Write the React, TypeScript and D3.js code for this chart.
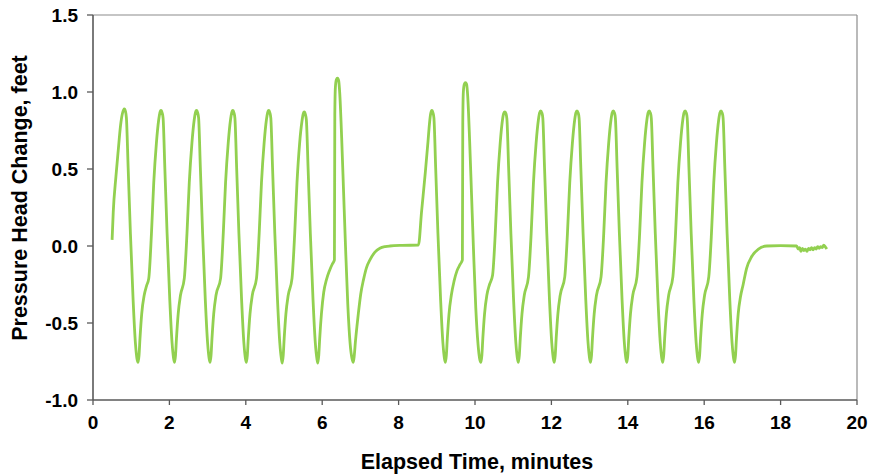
import React from "react";
import * as d3 from "d3";

const xTicks = [0, 2, 4, 6, 8, 10, 12, 14, 16, 18, 20];
const yTicks = [-1.0, -0.5, 0.0, 0.5, 1.0, 1.5];

// Elapsed time (minutes) and pressure head change (feet)
const timeMin = [
  0.50, 0.53, 0.60, 0.66, 0.72, 0.77, 0.82, 0.85, 0.875, 0.92, 0.98, 1.05, 1.11, 1.15, 1.18, 1.205, 1.23, 1.275, 1.34, 1.40,
  1.46, 1.53, 1.59, 1.66, 1.72, 1.75, 1.78, 1.81, 1.835, 1.88, 1.94, 2.01, 2.07, 2.11, 2.135, 2.16, 2.185, 2.23, 2.29,
  2.39, 2.46, 2.52, 2.59, 2.65, 2.68, 2.71, 2.74, 2.765, 2.81, 2.87, 2.94, 3.00, 3.04, 3.065, 3.09, 3.115, 3.16, 3.22,
  3.34, 3.41, 3.47, 3.54, 3.60, 3.63, 3.66, 3.69, 3.715, 3.76, 3.82, 3.89, 3.95, 3.99, 4.015, 4.04, 4.065, 4.11, 4.17,
  4.28, 4.35, 4.41, 4.48, 4.54, 4.57, 4.60, 4.63, 4.655, 4.70, 4.76, 4.83, 4.89, 4.93, 4.955, 4.98, 5.005, 5.05, 5.11,
  5.21, 5.28, 5.34, 5.41, 5.47, 5.50, 5.53, 5.56, 5.585, 5.63, 5.69, 5.76, 5.82, 5.86, 5.885, 5.91, 5.935, 5.98, 6.04, 6.11, 6.19, 6.26,
  6.32, 6.33, 6.345, 6.37, 6.40, 6.43, 6.46, 6.51, 6.56, 6.61, 6.67, 6.73, 6.78, 6.815, 6.84, 6.87, 6.91, 6.95, 7.01, 7.08, 7.16, 7.25, 7.38, 7.51, 7.65, 7.77, 8.10,
  8.52, 8.60, 8.70, 8.77, 8.81, 8.84, 8.87, 8.90, 8.925, 8.97, 9.03, 9.10, 9.16, 9.20, 9.225, 9.25, 9.275, 9.32, 9.38, 9.45, 9.53, 9.61,
  9.67, 9.68, 9.695, 9.72, 9.75, 9.78, 9.81, 9.86, 9.91, 9.96, 10.02, 10.08, 10.12, 10.155, 10.18, 10.205, 10.25, 10.31, 10.38,
  10.46, 10.53, 10.59, 10.66, 10.72, 10.75, 10.78, 10.81, 10.835, 10.88, 10.94, 11.01, 11.07, 11.11, 11.135, 11.16, 11.185, 11.23, 11.29,
  11.40, 11.47, 11.53, 11.60, 11.66, 11.69, 11.72, 11.75, 11.775, 11.82, 11.88, 11.95, 12.01, 12.05, 12.075, 12.10, 12.125, 12.17, 12.23,
  12.35, 12.42, 12.48, 12.55, 12.61, 12.64, 12.67, 12.70, 12.725, 12.77, 12.83, 12.90, 12.96, 13.00, 13.025, 13.05, 13.075, 13.12, 13.18,
  13.30, 13.37, 13.43, 13.50, 13.56, 13.59, 13.62, 13.65, 13.675, 13.72, 13.78, 13.85, 13.91, 13.95, 13.975, 14.00, 14.025, 14.07, 14.13,
  14.24, 14.31, 14.37, 14.44, 14.50, 14.53, 14.56, 14.59, 14.615, 14.66, 14.72, 14.79, 14.85, 14.89, 14.915, 14.94, 14.965, 15.01, 15.07,
  15.18, 15.25, 15.31, 15.38, 15.44, 15.47, 15.50, 15.53, 15.555, 15.60, 15.66, 15.73, 15.79, 15.83, 15.855, 15.88, 15.905, 15.95, 16.01,
  16.12, 16.19, 16.25, 16.32, 16.38, 16.41, 16.44, 16.47, 16.495, 16.54, 16.60, 16.67, 16.73, 16.77, 16.795, 16.82, 16.845, 16.89, 16.95,
  17.02, 17.11, 17.24, 17.42, 17.64, 18.00, 18.42,
  18.46, 18.50, 18.53, 18.57, 18.61, 18.65, 18.69, 18.73, 18.77, 18.81, 18.85, 18.89, 18.93, 18.97, 19.01, 19.05, 19.09, 19.13, 19.17, 19.21,
];

const headFt = [
  0.04, 0.22, 0.45, 0.62, 0.78, 0.86, 0.89, 0.875, 0.83, 0.51, 0.08, -0.35, -0.63, -0.73, -0.755, -0.71, -0.60, -0.44, -0.32, -0.26,
  -0.21, 0.08, 0.41, 0.67, 0.82, 0.865, 0.88, 0.865, 0.83, 0.51, 0.08, -0.35, -0.63, -0.73, -0.755, -0.71, -0.60, -0.44, -0.32,
  -0.21, 0.08, 0.41, 0.67, 0.82, 0.865, 0.88, 0.865, 0.83, 0.51, 0.08, -0.35, -0.63, -0.73, -0.755, -0.71, -0.60, -0.44, -0.32,
  -0.21, 0.08, 0.41, 0.67, 0.82, 0.865, 0.88, 0.865, 0.83, 0.51, 0.08, -0.35, -0.63, -0.73, -0.755, -0.71, -0.60, -0.44, -0.32,
  -0.21, 0.08, 0.41, 0.67, 0.82, 0.865, 0.88, 0.865, 0.83, 0.51, 0.08, -0.35, -0.63, -0.73, -0.76, -0.71, -0.60, -0.44, -0.32,
  -0.21, 0.08, 0.41, 0.67, 0.81, 0.855, 0.87, 0.855, 0.82, 0.51, 0.08, -0.35, -0.63, -0.73, -0.76, -0.71, -0.60, -0.44, -0.30, -0.22, -0.16, -0.12,
  -0.09, 0.85, 1.03, 1.08, 1.09, 1.075, 0.99, 0.70, 0.35, 0.0, -0.38, -0.63, -0.73, -0.755, -0.71, -0.62, -0.52, -0.43, -0.31, -0.22, -0.14, -0.09, -0.04, -0.015, -0.004, 0.0, 0.004,
  0.006, 0.22, 0.48, 0.68, 0.80, 0.86, 0.88, 0.865, 0.83, 0.51, 0.08, -0.35, -0.63, -0.73, -0.755, -0.71, -0.60, -0.44, -0.32, -0.23, -0.16, -0.12,
  -0.09, 0.80, 1.00, 1.05, 1.06, 1.05, 0.97, 0.68, 0.33, -0.02, -0.40, -0.64, -0.73, -0.755, -0.71, -0.60, -0.44, -0.32, -0.25,
  -0.19, 0.08, 0.41, 0.67, 0.82, 0.86, 0.87, 0.86, 0.825, 0.51, 0.08, -0.35, -0.63, -0.73, -0.755, -0.71, -0.60, -0.44, -0.32,
  -0.20, 0.08, 0.41, 0.67, 0.82, 0.865, 0.877, 0.865, 0.83, 0.51, 0.08, -0.35, -0.63, -0.73, -0.755, -0.71, -0.60, -0.44, -0.32,
  -0.20, 0.08, 0.41, 0.67, 0.82, 0.865, 0.877, 0.865, 0.83, 0.51, 0.08, -0.35, -0.63, -0.73, -0.755, -0.71, -0.60, -0.44, -0.32,
  -0.20, 0.08, 0.41, 0.67, 0.82, 0.865, 0.877, 0.865, 0.83, 0.51, 0.08, -0.35, -0.63, -0.73, -0.755, -0.71, -0.60, -0.44, -0.32,
  -0.20, 0.08, 0.41, 0.67, 0.82, 0.865, 0.877, 0.865, 0.83, 0.51, 0.08, -0.35, -0.63, -0.73, -0.755, -0.71, -0.60, -0.44, -0.32,
  -0.20, 0.08, 0.41, 0.67, 0.82, 0.865, 0.877, 0.865, 0.83, 0.51, 0.08, -0.35, -0.63, -0.73, -0.755, -0.71, -0.60, -0.44, -0.32,
  -0.20, 0.08, 0.41, 0.67, 0.82, 0.865, 0.877, 0.865, 0.83, 0.51, 0.08, -0.35, -0.63, -0.73, -0.755, -0.71, -0.60, -0.44, -0.33,
  -0.25, -0.145, -0.07, -0.02, 0.0, 0.002, 0.0,
  -0.02, -0.01, -0.035, -0.015, -0.03, -0.02, -0.035, -0.015, -0.025, -0.01, -0.025, -0.01, -0.02, -0.005, -0.015, -0.005, -0.01, 0.005, -0.005, -0.02,
];

const W = 869;
const H = 474;
const M = { left: 93, right: 857, top: 15, bottom: 400 };
const FONT = "'Liberation Sans', Arial, sans-serif";

export default function App() {
  const x = d3.scaleLinear().domain([0, 20]).range([M.left, M.right]);
  const y = d3.scaleLinear().domain([-1, 1.5]).range([M.bottom, M.top]);
  const pts = timeMin.map((t, i) => [t, headFt[i]] as [number, number]);
  const line = d3
    .line<[number, number]>()
    .x((d) => x(d[0]))
    .y((d) => y(d[1]))
    .curve(d3.curveMonotoneX);
  const fmt = d3
    .formatLocale({ decimal: ".", thousands: ",", grouping: [3], currency: ["", ""], minus: "-" })
    .format(".1f");

  return (
    <svg
      width={W}
      height={H}
      style={{ position: "absolute", left: 0, top: 0, background: "#fff" }}
      fontFamily={FONT}
    >
      <rect x={0} y={0} width={W} height={H} fill="#fff" />
      <line x1={M.left} x2={M.right} y1={M.top} y2={M.top} stroke="#8c8c8c" strokeWidth={1.2} />
      <line x1={M.right} x2={M.right} y1={M.top} y2={M.bottom} stroke="#8c8c8c" strokeWidth={1.2} />
      <path d={line(pts) || ""} fill="none" stroke="#92D050" strokeWidth={2.8} strokeLinejoin="round" />
      <line x1={M.left} x2={M.left} y1={M.top} y2={M.bottom} stroke="#595959" strokeWidth={1.6} />
      <line x1={M.left} x2={M.right} y1={M.bottom} y2={M.bottom} stroke="#595959" strokeWidth={1.6} />
      {yTicks.map((v) => (
        <g key={"y" + v}>
          <line x1={M.left - 6} x2={M.left} y1={y(v)} y2={y(v)} stroke="#595959" strokeWidth={1.3} />
          <text x={78} y={y(v)} dy="0.36em" textAnchor="end" fontSize={19} fontWeight="bold" fill="#000">
            {fmt(v)}
          </text>
        </g>
      ))}
      {xTicks.map((v) => (
        <g key={"x" + v}>
          <line x1={x(v)} x2={x(v)} y1={M.bottom} y2={M.bottom + 5} stroke="#595959" strokeWidth={1.3} />
          <text x={x(v)} y={429} textAnchor="middle" fontSize={19} fontWeight="bold" fill="#000">
            {v}
          </text>
        </g>
      ))}
      <text x={477} y={469} textAnchor="middle" fontSize={21.5} fontWeight="bold" fill="#000">
        Elapsed Time, minutes
      </text>
      <text
        transform={`translate(27,198) rotate(-90)`}
        textAnchor="middle"
        fontSize={21.5}
        fontWeight="bold"
        fill="#000"
      >
        Pressure Head Change, feet
      </text>
    </svg>
  );
}
